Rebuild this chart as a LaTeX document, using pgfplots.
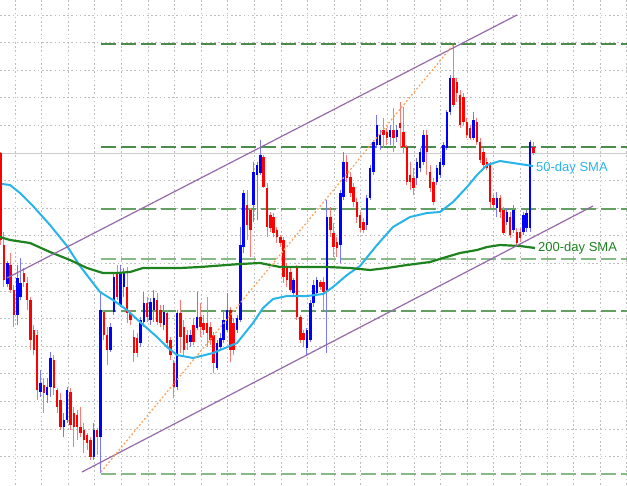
\documentclass[border=0pt]{standalone}
\usepackage{pgfplots}
\usepackage{pgfplotstable}
\pgfplotsset{compat=1.18}
\usepackage{fontspec}
\setmainfont{Liberation Sans}

\definecolor{bullbody}{RGB}{0,0,255}
\definecolor{bullwick}{RGB}{120,120,255}
\definecolor{bearbody}{RGB}{255,0,0}
\definecolor{bearwick}{RGB}{255,120,120}
\definecolor{fibA}{RGB}{74,140,74}
\definecolor{fibB}{RGB}{100,160,100}
\definecolor{fibC}{RGB}{135,185,135}
\definecolor{chan}{RGB}{150,105,170}
\definecolor{fibline}{RGB}{255,160,85}
\definecolor{smafast}{RGB}{40,180,235}
\definecolor{smaslow}{RGB}{30,130,30}
\definecolor{gridc}{RGB}{190,190,190}
\definecolor{bidc}{RGB}{205,205,205}

% bars: i = bar number, o h l c = open high low close (chart rows, top = 0)
\pgfplotstableread{
i o h l c
0 153 152 245 240
1 245 232 287 280
3 265 253 293 290
4 290 285 327 315
7 273 268 287 282
8 283 277 310 300
9 300 297 350 340
10 330 325 355 350
11 335 330 400 390
13 385 378 413 393
16 360 355 395 388
17 390 388 413 407
18 400 393 430 427
21 392 388 430 425
22 413 407 447 427
23 415 410 440 427
24 427 407 437 433
25 430 423 453 440
26 435 433 450 443
27 440 437 460 457
29 430 428 455 437
31 312 310 340 335
32 335 327 365 350
35 273 265 300 297
38 287 267 323 313
39 313 310 325 320
40 337 330 362 353
41 338 333 357 353
44 303 297 322 317
47 300 293 325 322
48 310 305 327 323
50 313 310 348 343
51 340 337 360 355
52 363 360 398 387
54 313 300 353 337
55 327 320 357 350
56 335 330 350 343
58 325 318 345 342
60 317 303 337 327
61 323 315 335 330
62 323 297 347 333
63 327 322 345 340
64 335 332 373 363
69 310 307 362 350
70 323 318 355 350
74 205 190 240 225
75 210 208 257 230
79 157 155 188 187
80 188 183 237 227
81 215 212 232 228
82 217 213 237 233
83 230 227 243 237
84 237 235 247 243
85 240 237 283 277
86 267 263 287 280
87 272 268 292 290
89 268 265 320 317
90 317 315 343 340
91 333 330 347 340
96 282 280 290 287
97 282 277 310 292
99 217 207 237 230
100 233 223 257 247
101 242 237 257 248
104 162 155 182 178
105 177 172 197 193
106 187 183 207 202
107 202 198 223 217
108 215 212 232 228
109 222 218 233 230
115 130 118 148 135
116 132 128 145 138
118 130 108 152 138
120 123 102 148 128
121 132 107 153 147
122 147 145 185 182
123 175 162 190 182
124 178 168 195 188
128 135 130 175 152
129 172 165 192 188
130 182 178 205 202
136 78 45 107 105
137 82 78 102 93
138 95 90 128 125
139 97 93 125 122
140 122 118 138 135
141 128 125 140 138
143 122 118 145 142
144 142 138 163 160
145 152 148 168 165
146 162 158 170 168
147 165 162 208 202
148 198 195 208 205
150 198 195 218 212
151 210 207 235 233
153 217 212 238 235
155 232 228 247 243
156 232 228 242 238
160 147 142 155 153
}\bearbars

\pgfplotstableread{
i o h l c
2 284 261 287 263
5 315 265 325 278
6 297 258 300 283
12 392 370 397 383
14 395 378 403 387
15 387 352 397 358
19 427 413 437 420
20 420 387 423 390
28 457 423 460 430
30 437 293 473 310
33 350 323 352 327
34 312 273 315 277
36 305 265 307 272
37 287 268 297 273
42 343 317 347 320
43 322 292 327 303
45 320 298 325 302
46 310 290 322 298
49 325 305 330 312
53 387 310 390 313
57 342 330 347 335
59 328 292 330 317
65 368 340 370 343
66 347 333 350 338
67 340 310 343 320
68 330 293 332 310
71 330 315 333 318
72 320 227 322 245
73 247 190 253 193
76 205 162 222 172
77 175 162 220 165
78 173 140 175 155
88 293 278 296 280
92 348 328 355 330
93 340 300 342 303
94 303 280 307 285
95 293 277 295 280
98 290 200 353 217
102 245 190 263 193
103 197 152 200 162
110 225 195 230 198
111 198 165 200 168
112 172 140 175 142
113 145 115 148 125
114 145 130 150 135
117 137 125 145 130
119 137 125 142 130
125 178 158 185 162
126 168 148 172 152
127 162 130 165 135
131 182 165 185 168
132 175 158 178 162
133 165 142 167 145
134 148 110 150 112
135 112 75 115 78
142 138 112 140 120
149 208 192 217 198
152 222 208 225 212
154 230 205 233 210
157 232 212 235 215
158 228 210 232 213
159 228 140 232 142
}\bullbars

\pgfplotsset{
  wick/.style={only marks, mark=*, mark size=0pt,
    mark options={draw=none, fill=none}, forget plot,
    error bars/.cd, y dir=both, y explicit, error mark=none,
    error bar style={line width=1pt, draw=#1}},
  body/.style={only marks, mark=*, mark size=0pt,
    mark options={draw=none, fill=none}, forget plot,
    error bars/.cd, y dir=both, y explicit, error mark=none,
    error bar style={line width=2.5pt, draw=#1}},
}

\begin{document}
\begin{tikzpicture}
\begin{axis}[
  scale only axis, width=627pt, height=485pt,
  xmin=0, xmax=627, ymin=0, ymax=485, y dir=reverse,
  axis line style={draw=none},
  xtick={15,41.6,...,620}, ytick={15,42.6,...,470},
  xticklabels={}, yticklabels={},
  major tick length=0pt, tick style={draw=none},
  grid=major,
  major grid style={gridc, line width=0.9pt, dash pattern=on 1.6pt off 2.6pt},
  clip=true,
]
\coordinate (SW) at (axis cs:0,485);
\coordinate (NE) at (axis cs:627,0);

% bid line
\addplot[bidc, line width=1.5pt] coordinates {(0,153.5) (627,153.5)};

% fibonacci levels
\addplot[fibA, line width=2.2pt, dash pattern=on 15pt off 5pt] coordinates {(101,44) (627,44)};
\addplot[fibA, line width=2.2pt, dash pattern=on 15pt off 5pt] coordinates {(101,147) (627,147)};
\addplot[fibB, line width=1.6pt, dash pattern=on 15pt off 5pt] coordinates {(101,209) (627,209)};
\addplot[fibC, line width=1.6pt, dash pattern=on 15pt off 5pt] coordinates {(101,259) (627,259)};
\addplot[fibB, line width=1.6pt, dash pattern=on 15pt off 5pt] coordinates {(101,311) (627,311)};
\addplot[fibC, line width=1.8pt, dash pattern=on 15pt off 5pt] coordinates {(101,474) (627,474)};

% candles
\addplot[wick=bearwick] table[x expr=0.6+3.33*\thisrow{i}, y expr=(\thisrow{h}+\thisrow{l})/2, y error expr=(\thisrow{l}-\thisrow{h})/2] {\bearbars};
\addplot[wick=bullwick] table[x expr=0.6+3.33*\thisrow{i}, y expr=(\thisrow{h}+\thisrow{l})/2, y error expr=(\thisrow{l}-\thisrow{h})/2] {\bullbars};
\addplot[body=bearbody] table[x expr=0.6+3.33*\thisrow{i}, y expr=(\thisrow{o}+\thisrow{c})/2, y error expr={max(abs(\thisrow{c}-\thisrow{o})/2,0.7)}] {\bearbars};
\addplot[body=bullbody] table[x expr=0.6+3.33*\thisrow{i}, y expr=(\thisrow{o}+\thisrow{c})/2, y error expr={max(abs(\thisrow{c}-\thisrow{o})/2,0.7)}] {\bullbars};

% moving averages
\addplot[smafast, line width=2pt] coordinates {
(2,184) (10,185) (20,193) (33,206) (50,225) (67,246) (80,266) (93,283) (100,292)
(113,300) (127,310) (140,322) (157,337) (167,347) (177,355) (193,358) (213,353)
(237,343) (253,323) (263,308) (273,299) (287,296) (307,296) (323,294) (333,287)
(347,275) (360,266) (377,245) (393,227) (410,217) (427,213) (440,212) (453,202)
(467,187) (477,175) (487,165) (500,161) (513,163) (533,166)};
\addplot[smaslow, line width=2.2pt] coordinates {
(0,237) (10,240) (30,243) (50,252) (70,260) (87,268) (103,273) (117,273) (130,272)
(143,268) (180,268) (200,267) (240,264) (260,263) (280,267) (300,267) (327,267)
(350,268) (370,270) (387,268) (407,265) (430,262) (443,258) (460,253) (477,250)
(487,247) (500,245) (520,246) (535,248)};

% channel and fibonacci base line
\addplot[chan, line width=1.2pt] coordinates {(7,278) (517,15)};
\addplot[chan, line width=1.2pt] coordinates {(82,472) (593,206)};
\addplot[fibline, line width=1.3pt, dash pattern=on 1.8pt off 2.2pt] coordinates {(101,472) (453,45)};

\node[anchor=west, inner sep=0pt, text=smafast, font=\fontsize{13}{15}\selectfont] at (axis cs:536,168) {50-day SMA};
\node[anchor=west, inner sep=0pt, text=smaslow, font=\fontsize{13}{15}\selectfont] at (axis cs:538,248) {200-day SMA};
\end{axis}
\pgfresetboundingbox
\path (SW) rectangle (NE);
\end{tikzpicture}
\end{document}
